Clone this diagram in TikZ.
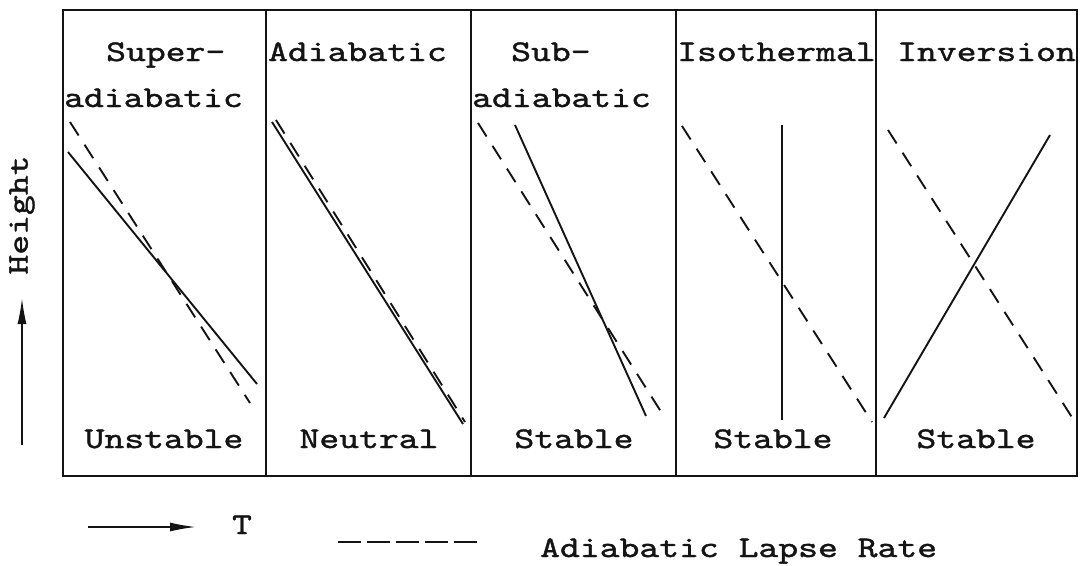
\documentclass[tikz,border=0pt]{standalone}
\usepackage{fontspec}
\setmonofont[FakeStretch=1.26,FakeBold=1.3]{lmmono10-regular.otf}
\usetikzlibrary{arrows.meta}
\definecolor{ink}{HTML}{141414}
\tikzset{frame/.style={draw=ink,line width=2pt}, actual/.style={draw=ink,line width=1.9pt}, adiab/.style={draw=ink,line width=1.9pt,dash pattern=on 16pt off 11pt}, lbl/.style={font=\ttfamily\fontsize{30}{36}\selectfont,text=ink,inner sep=0pt}, axis/.style={-{Latex[length=26pt,width=9pt]},draw=ink,line width=1.7pt}}

\begin{document}
\begin{tikzpicture}[x=1pt,y=-1pt]
\useasboundingbox (0,0) rectangle (1083,565);
\draw[frame] (63,10) rectangle (1077,476);
\foreach \xd in {266,471,676,876} \draw[frame] (\xd,10) -- (\xd,476);
\node[lbl,anchor=base west] (supA) at (106,61) {Super-};
\node[lbl,anchor=base west] (supB) at (64,107) {adiabatic};
\node[lbl,anchor=base west] (adi) at (268,61) {Adiabatic};
\node[lbl,anchor=base west] (subA) at (511,61) {Sub-};
\node[lbl,anchor=base west] (subB) at (472,107) {adiabatic};
\node[lbl,anchor=base west] (iso) at (677,61) {Isothermal};
\node[lbl,anchor=base west] (inv) at (897,61) {Inversion};
\node[lbl,anchor=base] (unst) at (164,448) {Unstable};
\node[lbl,anchor=base] (neut) at (369,448) {Neutral};
\node[lbl,anchor=base] (stabA) at (574,448) {Stable};
\node[lbl,anchor=base] (stabB) at (773,448) {Stable};
\node[lbl,anchor=base] (stabC) at (976,448) {Stable};
\draw[adiab] (70,122) -- (250,403);
\draw[actual] (68,152) -- (257,384);
\draw[adiab] (276,120) -- (465,422);
\draw[actual] (272,122) -- (463,424);
\draw[adiab] (478,123) -- (665,418);
\draw[actual] (515,125) -- (646,416);
\draw[adiab] (682,126) -- (872,422);
\draw[actual] (782,125) -- (782,420);
\draw[adiab] (888,130) -- (1075,422);
\draw[actual] (884,418) -- (1050,135);
\node[lbl,rotate=90] (hgt) at (22,215) {Height};
\coordinate (hlo) at (22,445);
\coordinate (hhi) at (22,298);
\draw[axis] (hlo) -- (hhi);
\coordinate (tlo) at (88,527);
\coordinate (thi) at (196,527);
\draw[axis] (tlo) -- (thi);
\node[lbl,anchor=base] (tlab) at (242,534) {T};
\coordinate (kfrom) at (338,542);
\coordinate (kto) at (478,542);
\draw[draw=ink,line width=1.9pt,dash pattern=on 23pt off 6pt] (kfrom) -- (kto);
\node[lbl,anchor=base west] (key) at (540,557) {Adiabatic Lapse Rate};
\end{tikzpicture}
\end{document}
